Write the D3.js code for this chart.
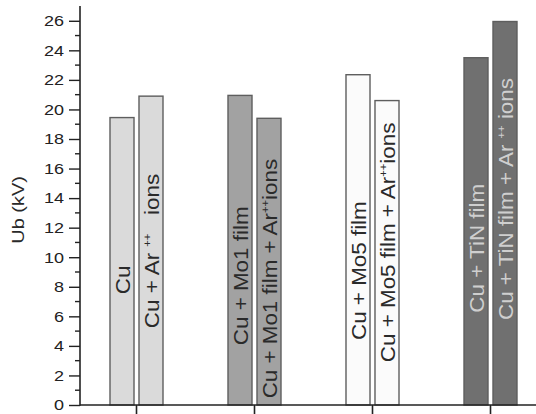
<!DOCTYPE html>
<html><head><meta charset="utf-8">
<script src="https://cdn.jsdelivr.net/npm/d3@7"></script>
<style>
html,body{margin:0;padding:0;background:#fff;}
svg{display:block;font-family:"Liberation Sans",Arial,sans-serif;}
</style></head>
<body>
<svg id="chart" width="536" height="414"></svg>
<script>
// ---- data ----
const groups = ["Cu", "Mo1", "Mo5", "TiN"];
const barLabels = [
  ["Cu", "Cu + Ar |++|   ions"],
  ["Cu + Mo1 film", "Cu + Mo1 film + Ar|++|ions"],
  ["Cu + Mo5 film", "Cu + Mo5 film + Ar|++|ions"],
  ["Cu + TiN film", "Cu + TiN film + Ar |++| ions"]
];
const valuesPlain = [19.45, 20.95, 22.35, 23.5];
const valuesArIons = [20.9, 19.4, 20.6, 25.95];
const yTicks = [0, 2, 4, 6, 8, 10, 12, 14, 16, 18, 20, 22, 24, 26];
const yMinorTicks = [1, 3, 5, 7, 9, 11, 13, 15, 17, 19, 21, 23, 25];
const yTitle = "Ub (kV)";

// ---- style / layout ----
const fills = ["#dadada", "#a2a2a2", "#fbfbfb", "#707070"];
const textColors = ["#2a2a2a", "#2a2a2a", "#2a2a2a", "#cfcfcf"];
// label start position (text bottom) expressed in axis units
const labelStart = [[7.5, 5.2], [4.05, 0.45], [4.4, 2.9], [6.25, 5.75]];

const svg = d3.select("#chart");
const y = d3.scaleLinear().domain([0, 27]).range([405, 6]);
const x = d3.scalePoint().domain(groups).range([136, 490]);
const sub = d3.scaleBand().domain([0, 1]).range([-26, 27]).paddingInner(0.172);

const bars = [];
groups.forEach((g, i) => {
  [valuesPlain[i], valuesArIons[i]].forEach((v, j) => {
    bars.push({g, i, j, v, label: barLabels[i][j]});
  });
});

svg.selectAll("rect.bar").data(bars).join("rect")
  .attr("class", "bar")
  .attr("x", d => x(d.g) + sub(d.j))
  .attr("width", sub.bandwidth())
  .attr("y", d => y(d.v))
  .attr("height", d => y(0) - y(d.v))
  .attr("fill", d => fills[d.i])
  .attr("stroke", "#5e5e5e")
  .attr("stroke-width", 1.4);

// labels inside bars
const lab = svg.selectAll("text.blab").data(bars).join("text")
  .attr("class", "blab")
  .attr("transform", d => `translate(${x(d.g) + sub(d.j) + sub.bandwidth() / 2 + 0.5},${y(labelStart[d.i][d.j])}) rotate(-90) scale(1.12,1)`)
  .attr("dominant-baseline", "central")
  .attr("font-size", 20)
  .attr("xml:space", "preserve")
  .style("white-space", "pre")
  .attr("fill", d => textColors[d.i]);
lab.each(function(d) {
  const parts = d.label.split("|");
  const t = d3.select(this);
  parts.forEach((p, k) => {
    const ts = t.append("tspan").text(p);
    if (k === 1) ts.attr("font-size", 10).attr("baseline-shift", "5");
    if (k === 2) ts.attr("baseline-shift", "0");
  });
});

// y axis
const yAxis = d3.axisLeft(y).tickValues(yTicks).tickSize(11).tickPadding(5).tickSizeOuter(0);
const gy = svg.append("g").attr("transform", "translate(80,0)").call(yAxis);
gy.select(".domain").remove();
gy.selectAll(".tick line").attr("stroke", "#222").attr("stroke-width", 1.4);
gy.selectAll(".tick text").attr("font-size", 15).attr("fill", "#222")
  .attr("font-family", "Liberation Sans, Arial, sans-serif")
  .attr("x", -16 / 1.2)
  .attr("transform", "scale(1.2,1)");
gy.selectAll("line.minor").data(yMinorTicks).join("line")
  .attr("class", "minor")
  .attr("x1", -5).attr("x2", 0)
  .attr("y1", d => y(d)).attr("y2", d => y(d))
  .attr("stroke", "#222").attr("stroke-width", 1.4);
svg.append("line").attr("x1", 80).attr("x2", 80)
  .attr("y1", y(27)).attr("y2", y(0) + 0.7)
  .attr("stroke", "#222").attr("stroke-width", 1.6);

// x axis
const xAxis = d3.axisBottom(x).tickSize(11).tickFormat("").tickSizeOuter(0);
const gx = svg.append("g").attr("transform", `translate(0,${y(0)})`).call(xAxis);
gx.select(".domain").remove();
gx.selectAll(".tick line").attr("stroke", "#222").attr("stroke-width", 1.6);
svg.append("line").attr("x1", 80).attr("x2", 536)
  .attr("y1", y(0)).attr("y2", y(0))
  .attr("stroke", "#222").attr("stroke-width", 1.6);

// y title
svg.append("text")
  .attr("transform", `translate(18,${(y(11.8) + y(14.6)) / 2}) rotate(-90) scale(1.17,1)`)
  .attr("text-anchor", "middle")
  .attr("dominant-baseline", "central")
  .attr("font-size", 17)
  .attr("fill", "#2a2a2a")
  .text(yTitle);
</script>
</body></html>
